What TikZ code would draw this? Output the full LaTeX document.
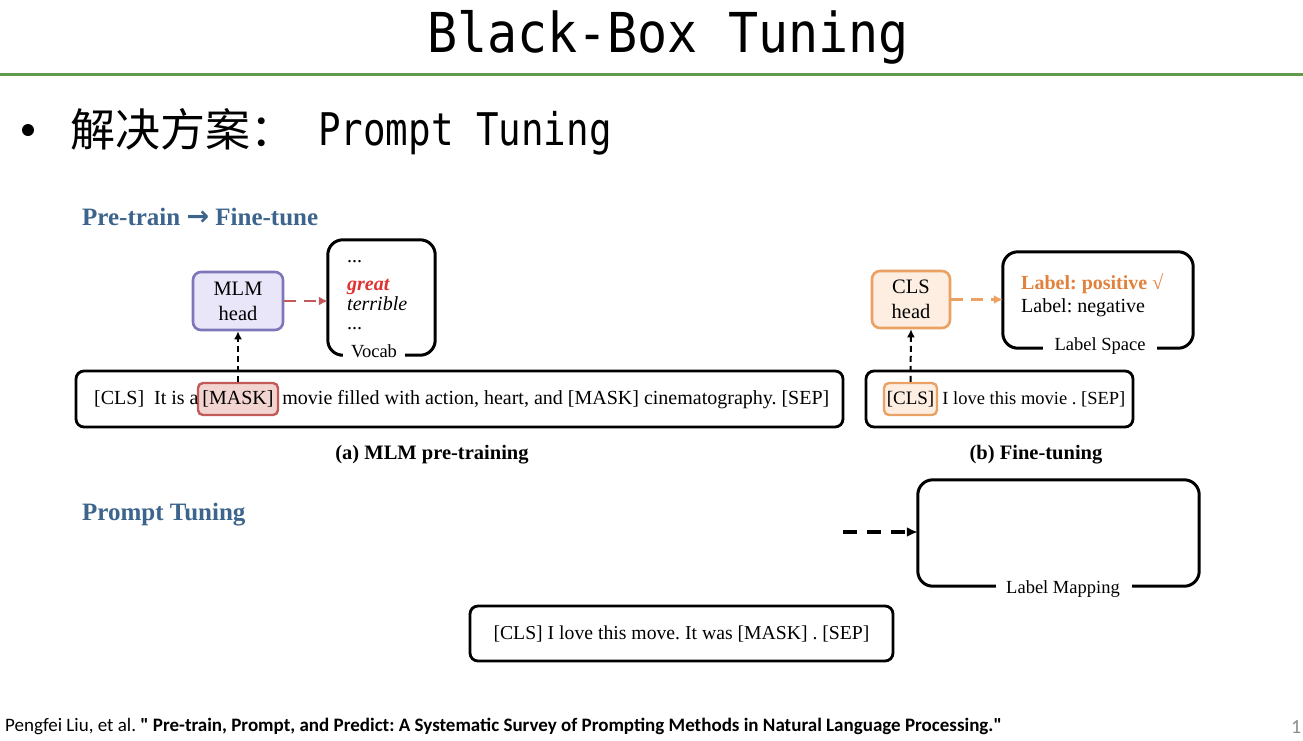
\documentclass[tikz,border=0pt]{standalone}
\usepackage{fontspec}
\usetikzlibrary{arrows.meta}
\setmainfont{Liberation Serif}
\newfontfamily\monof{DejaVu Sans Mono}
\newfontfamily\cjkf{Noto Sans CJK SC}
\newfontfamily\calf{Carlito}
\newfontfamily\arrowf{DejaVu Sans}
\definecolor{hgreen}{RGB}{95,155,75}
\definecolor{headblue}{RGB}{60,100,140}
\definecolor{greatred}{RGB}{225,50,50}
\definecolor{mlmfill}{RGB}{232,230,248}
\definecolor{mlmdraw}{RGB}{125,118,185}
\definecolor{maskfill}{RGB}{242,212,208}
\definecolor{maskdraw}{RGB}{195,90,90}
\definecolor{clsfill}{RGB}{253,238,225}
\definecolor{clsdraw}{RGB}{235,160,100}
\definecolor{posorange}{RGB}{225,130,60}
\begin{document}
\frenchspacing
\begin{tikzpicture}[x=1pt,y=-1pt,
  txt/.style={inner sep=0pt, font=\fontsize{20}{22}\selectfont},
  sentbox/.style={draw=black, line width=2.8pt, rounded corners=8pt, inner sep=0pt},
  headbox/.style={line width=2.6pt, rounded corners=8pt, inner sep=0pt, align=center,
    font=\fontsize{20.5}{25}\selectfont},
  hlbox/.style={line width=2.4pt, rounded corners=5pt, inner sep=0pt, minimum height=32pt,
    font=\fontsize{20}{22}\selectfont},
  spacebox/.style={inner sep=0pt},
  bracket/.style={draw=black, line width=3pt, rounded corners=15pt},
  heading/.style={inner sep=0pt, text=headblue, font=\bfseries\fontsize{25}{28}\selectfont},
  caption/.style={inner sep=0pt, font=\bfseries\fontsize{20.5}{24}\selectfont},
  smalllabel/.style={inner sep=0pt, font=\fontsize{18.5}{22}\selectfont},
  item/.style={inner sep=0pt, font=\fontsize{20}{24}\selectfont},
  redarrow/.style={draw=maskdraw, line width=2.6pt, dash pattern=on 12pt off 8pt,
    -{Latex[length=9pt,width=9pt]}},
  orangearrow/.style={draw=clsdraw, line width=2.6pt, dash pattern=on 12pt off 8pt,
    -{Latex[length=9pt,width=9pt]}},
  uparrow/.style={draw=black, line width=2pt, dash pattern=on 6pt off 4pt,
    -{Latex[length=8pt,width=8pt]}},
  bigarrow/.style={draw=black, line width=3.5pt, dash pattern=on 14pt off 10pt,
    -{Latex[length=11pt,width=10pt]}}
]
\useasboundingbox (0,0) rectangle (1303,740);
\fill[white] (0,0) rectangle (1303,740);

% title
\node[anchor=base, inner sep=0pt] (title) at (668,52)
  {\monof\fontsize{50}{55}\selectfont\scalebox{1}[1.1]{Black-Box Tuning}};
\draw[hgreen, line width=3pt] (0,74.5) -- (1303,74.5);

% bullet line
\fill (28,130) circle (6);
\node[anchor=base west, inner sep=0pt] (cn) at (70,146)
  {\cjkf\fontsize{45}{48}\selectfont 解决方案：};
\node[anchor=base west, inner sep=0pt] (pt) at (318,145)
  {\monof\fontsize{37.5}{40}\selectfont\scalebox{1}[1.2]{Prompt Tuning}};

% headings
\node[heading, anchor=base west] (h1) at (82,225)
  {Pre-train {\arrowf\bfseries\fontsize{27}{28}\selectfont →} Fine-tune};
\node[heading, anchor=base west] (h2) at (82,520) {Prompt Tuning};

% (a) MLM pre-training
\node[sentbox, minimum width=767pt, minimum height=56pt] (sa) at (459.5,399) {};
\node[hlbox, fill=maskfill, draw=maskdraw, minimum width=80pt] (maskA) at (238,399) {[MASK]};
\node[txt, anchor=base east] (sal) at ([xshift=2pt]maskA.base west) {[CLS]\ \ It is a};
\node[txt, anchor=base west] (sar) at ([xshift=3pt]maskA.base east)
  {movie filled with action, heart, and [MASK] cinematography. [SEP]};
\node[headbox, fill=mlmfill, draw=mlmdraw, minimum width=90pt, minimum height=58pt] (mlm)
  at (238,301) {MLM\\head};
\node[spacebox, minimum width=107pt, minimum height=115pt] (vocab) at (381.5,297.5) {};
\draw[bracket] ([xshift=12pt]vocab.south west) -- (vocab.south west) -- (vocab.north west)
  -- (vocab.north east) -- (vocab.south east) -- ([xshift=-30pt]vocab.south east);
\node[item, anchor=base west] (v1) at (347,262) {...};
\node[item, anchor=base west, text=greatred] (v2) at (347,290) {\bfseries\itshape great};
\node[item, anchor=base west] (v3) at (347,310) {\itshape terrible};
\node[item, anchor=base west] (v4) at (347,329) {...};
\node[smalllabel, anchor=base] (vl) at (374,357) {Vocab};
\draw[redarrow] (mlm.east) -- (mlm.east -| vocab.west);
\draw[uparrow] (maskA.north) -- (mlm.south);
\node[caption] (capa) at (432,455) {(a) MLM pre-training};

% (b) Fine-tuning
\node[sentbox, minimum width=267pt, minimum height=56pt] (sb) at (999.5,399) {};
\node[hlbox, fill=clsfill, draw=clsdraw, minimum width=53pt, font=\fontsize{19}{22}\selectfont]
  (clsB) at (910.5,399) {[CLS]};
\node[txt, anchor=base west, font=\fontsize{18.5}{22}\selectfont] (sbr)
  at ([xshift=4pt]clsB.base east) {I love this movie . [SEP]};
\node[headbox, fill=clsfill, draw=clsdraw, minimum width=78pt, minimum height=57pt] (clsh)
  at (911,299.5) {CLS\\head};
\node[spacebox, minimum width=190pt, minimum height=96pt] (lspace) at (1098,300) {};
\draw[bracket] ([xshift=40pt]lspace.south west) -- (lspace.south west) -- (lspace.north west)
  -- (lspace.north east) -- (lspace.south east) -- ([xshift=-36pt]lspace.south east);
\node[item, anchor=base west, text=posorange] (lp) at (1021,289) {\bfseries Label: positive √};
\node[item, anchor=base west] (ln) at (1021,312) {Label: negative};
\node[smalllabel, anchor=base] (lsl) at (1100,350) {Label Space};
\draw[orangearrow] (clsh.east) -- (clsh.east -| lspace.west);
\draw[uparrow] (clsB.north) -- (clsh.south);
\node[caption] (capb) at (1036,455) {(b) Fine-tuning};

% Prompt tuning
\node[spacebox, minimum width=281pt, minimum height=106pt] (lmap) at (1058.5,533) {};
\draw[bracket] ([xshift=78pt]lmap.south west) -- (lmap.south west) -- (lmap.north west)
  -- (lmap.north east) -- (lmap.south east) -- ([xshift=-67pt]lmap.south east);
\node[smalllabel, anchor=base] (lml) at (1063,593) {Label Mapping};
\coordinate (pstart) at (843,532);
\draw[bigarrow] (pstart) -- (pstart -| lmap.west);
\node[sentbox, minimum width=423pt, minimum height=55pt, font=\fontsize{19.7}{22}\selectfont] (pc)
  at (681.5,633.5) {[CLS] I love this move. It was [MASK] . [SEP]};

% footer
\node[anchor=base west, inner sep=0pt] (foot) at (5,731)
  {\calf\fontsize{19}{21}\selectfont Pengfei Liu, et al. \textbf{" Pre-train, Prompt, and Predict: A Systematic Survey of Prompting Methods in Natural Language Processing."}};
\node[anchor=base west, inner sep=0pt, text=black!45] (pg) at (1291,733)
  {\calf\fontsize{20}{22}\selectfont 1};
\end{tikzpicture}
\end{document}
